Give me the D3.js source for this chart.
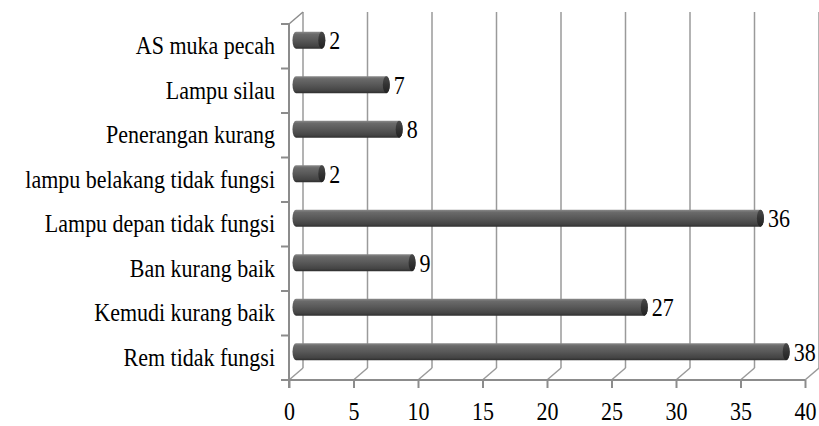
<!DOCTYPE html>
<html>
<head>
<meta charset="utf-8">
<script src="https://cdn.jsdelivr.net/npm/d3@7"></script>
</head>
<body style="margin:0">
<svg id="chart" width="819" height="426" style="font-family: 'Liberation Serif', 'Times New Roman', serif"></svg>
<script>
// Categories from top to bottom and their counts
const categories = [
  "AS muka pecah",
  "Lampu silau",
  "Penerangan kurang",
  "lampu belakang tidak fungsi",
  "Lampu depan tidak fungsi",
  "Ban kurang baik",
  "Kemudi kurang baik",
  "Rem tidak fungsi"
];
const values = [2, 7, 8, 2, 36, 9, 27, 38];
const xTicks = [0, 5, 10, 15, 20, 25, 30, 35, 40];

const FONT = '"Liberation Serif", "Times New Roman", serif';
const FS = 22;
const svg = d3.select("#chart");

// front plane scales
const x = d3.scaleLinear().domain([0, 40]).range([289, 805]);
const y = d3.scaleBand().domain(categories).range([24, 380]);

// depth offset from the front plane to the back wall
const depth = { dx: 14, dy: -12 };
const mid = { dx: depth.dx / 2, dy: depth.dy / 2 };

const gridColor = "#9a9a9a";
const axisColor = "#8c8c8c";

// back wall grid lines
svg.append("g").selectAll("line")
  .data(xTicks)
  .join("line")
  .attr("x1", d => x(d) + depth.dx)
  .attr("x2", d => x(d) + depth.dx)
  .attr("y1", y.range()[0] + depth.dy)
  .attr("y2", y.range()[1] + depth.dy)
  .attr("stroke", gridColor)
  .attr("stroke-width", 1.5);

// floor: diagonals from each front tick to the back wall
svg.append("g").selectAll("line")
  .data(xTicks)
  .join("line")
  .attr("x1", d => x(d))
  .attr("y1", y.range()[1])
  .attr("x2", d => x(d) + depth.dx)
  .attr("y2", y.range()[1] + depth.dy)
  .attr("stroke", gridColor)
  .attr("stroke-width", 1.5);

// front bottom axis with tick marks
const xAxis = d3.axisBottom(x).tickValues(xTicks).tickSize(8);
const gx = svg.append("g")
  .attr("transform", `translate(0,${y.range()[1]})`)
  .call(xAxis)
  .attr("font-family", null)
  .attr("font-size", null);
gx.select(".domain").attr("stroke", axisColor).attr("stroke-width", 2)
  .attr("d", `M${x(0)},0H${x(40)}`);
gx.selectAll(".tick line").attr("stroke", axisColor).attr("stroke-width", 2);
gx.selectAll(".tick text")
  .attr("font-size", FS)
  .style("font-family", FONT)
  .attr("fill", "#000")
  .attr("dy", null)
  .attr("y", 0)
  .attr("transform", "translate(0,40) scale(1,1.15)");

// front left axis with category ticks
const boundaries = categories.map(c => y(c)).concat([y.range()[1]]);
svg.append("line")
  .attr("x1", x(0)).attr("x2", x(0))
  .attr("y1", y.range()[0]).attr("y2", y.range()[1] + 8)
  .attr("stroke", axisColor).attr("stroke-width", 2);
svg.append("line")
  .attr("x1", x(0)).attr("y1", y.range()[0])
  .attr("x2", x(0) + depth.dx).attr("y2", y.range()[0] + depth.dy)
  .attr("stroke", axisColor).attr("stroke-width", 1.5);
svg.append("g").selectAll("line")
  .data(boundaries)
  .join("line")
  .attr("x1", x(0) - 8).attr("x2", x(0))
  .attr("y1", d => d).attr("y2", d => d)
  .attr("stroke", axisColor).attr("stroke-width", 2);

// category labels
svg.append("g")
  .selectAll("text")
  .data(categories)
  .join("text")
  .attr("font-size", FS)
  .style("font-family", FONT)
  .attr("text-anchor", "end")
  .attr("fill", "#000")
  .attr("transform", d => `translate(${x(0) - 14},${y(d) + y.bandwidth() / 2 + 8}) scale(1,1.15)`)
  .text(d => d);

// cylinder shading
const defs = svg.append("defs");
const body = defs.append("linearGradient")
  .attr("id", "cylBody").attr("x1", 0).attr("y1", 0).attr("x2", 0).attr("y2", 1);
[[0, "#8a8a8a"], [0.15, "#6a6a6a"], [0.5, "#585858"], [0.85, "#444"], [1, "#2e2e2e"]]
  .forEach(([o, c]) => body.append("stop").attr("offset", o).attr("stop-color", c));
const cap = defs.append("linearGradient")
  .attr("id", "cylCap").attr("x1", 0).attr("y1", 0).attr("x2", 0).attr("y2", 1);
[[0, "#4a4a4a"], [0.5, "#333"], [1, "#222"]]
  .forEach(([o, c]) => cap.append("stop").attr("offset", o).attr("stop-color", c));

const barH = 17;
const rx = 3.5;
const bars = svg.append("g").selectAll("g")
  .data(categories.map((c, i) => ({ c, v: values[i] })))
  .join("g")
  .attr("transform", d => `translate(${mid.dx},${y(d.c) + y.bandwidth() / 2 + mid.dy})`);

bars.append("path")
  .attr("d", d => {
    const x0 = x(0), x1 = x(d.v), h = barH / 2;
    return `M${x1},${-h}H${x0}A${rx},${h} 0 0 0 ${x0},${h}H${x1}A${rx},${h} 0 0 0 ${x1},${-h}Z`;
  })
  .attr("fill", "url(#cylBody)");

bars.append("ellipse")
  .attr("cx", d => x(d.v))
  .attr("cy", 0)
  .attr("rx", rx)
  .attr("ry", barH / 2)
  .attr("fill", "url(#cylCap)");

// value labels
bars.append("text")
  .attr("font-size", FS)
  .style("font-family", FONT)
  .attr("fill", "#000")
  .attr("transform", d => `translate(${x(d.v) + rx + 4},${9}) scale(1,1.15)`)
  .text(d => d.v);
</script>
</body>
</html>
